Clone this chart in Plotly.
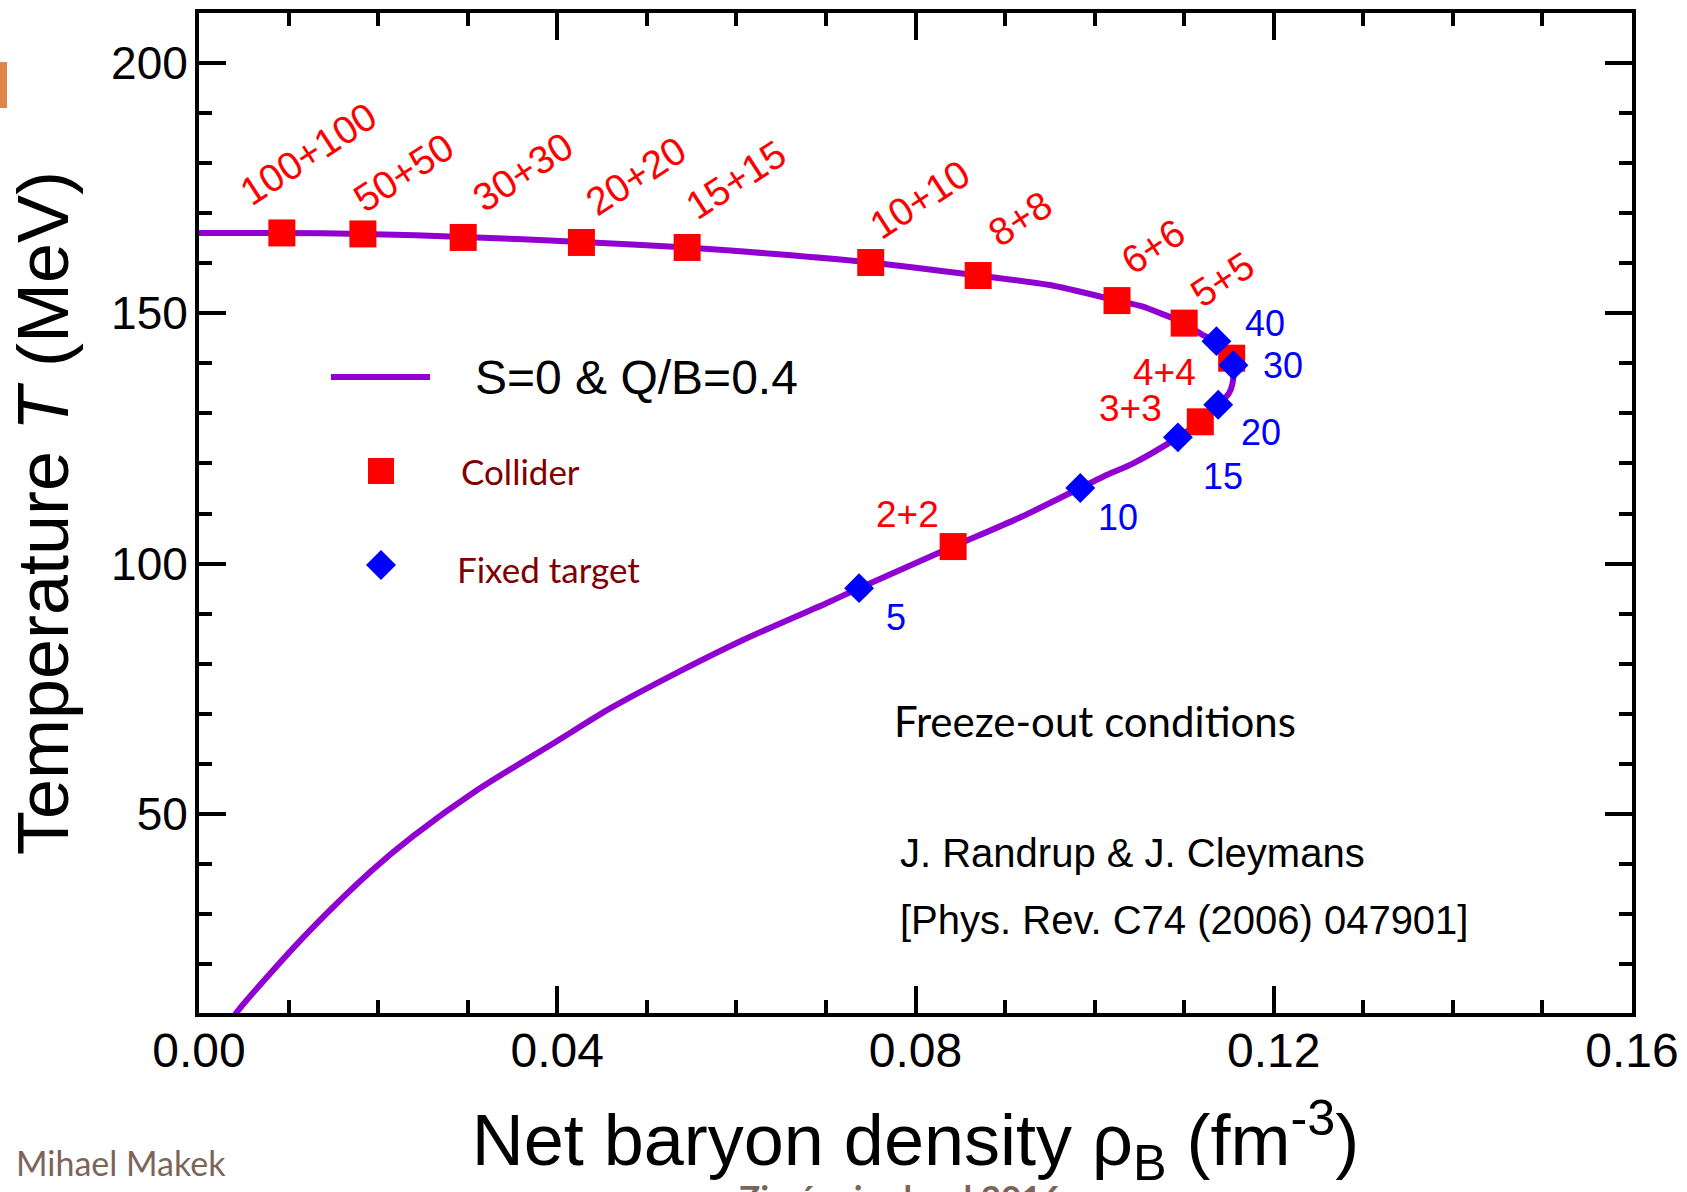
import plotly.graph_objects as go

# ---------------- data ----------------
# Freeze-out curve (net baryon density, temperature)
curve_rho = [0.0000, 0.00925, 0.0183, 0.0295, 0.0427, 0.0545, 0.0643, 0.0750, 0.0870,
             0.0950, 0.1025, 0.1054, 0.1073, 0.1100, 0.1121, 0.1136, 0.1151, 0.1155,
             0.1154, 0.1150, 0.1138, 0.1125, 0.1118, 0.1093, 0.1043, 0.1010, 0.0984,
             0.0919, 0.0842, 0.0737, 0.0703, 0.0608, 0.0528, 0.0459, 0.0399, 0.0309,
             0.0239, 0.0192, 0.0125, 0.0080, 0.0042, 0.0036]
curve_T = [166.0, 166.0, 165.8, 165.2, 164.2, 163.1, 161.8, 160.1, 157.5,
           155.6, 152.5, 151.3, 150.0, 148.0, 145.6, 144.4, 142.0, 139.6,
           136.0, 134.0, 131.7, 129.7, 128.3, 125.2, 120.0, 117.4, 115.1,
           109.4, 103.4, 95.1, 92.3, 84.8, 77.7, 71.1, 64.5, 54.6,
           45.6, 38.6, 27.0, 18.3, 10.4, 8.5]

collider_labels = ["100+100", "50+50", "30+30", "20+20", "15+15", "10+10",
                   "8+8", "6+6", "5+5", "4+4", "3+3", "2+2"]
collider_rho = [0.00925, 0.0183, 0.0295, 0.0427, 0.0545, 0.0750,
                0.0870, 0.1025, 0.1100, 0.1153, 0.1118, 0.0842]
collider_T = [166.0, 165.8, 165.1, 164.1, 163.1, 160.1,
              157.5, 152.5, 148.0, 141.0, 128.3, 103.4]

fixed_labels = ["40", "30", "20", "15", "10", "5"]
fixed_rho = [0.1136, 0.1155, 0.1138, 0.1093, 0.0984, 0.0737]
fixed_T = [144.4, 139.6, 131.7, 125.2, 115.1, 95.1]

x_ticks = [0.00, 0.04, 0.08, 0.12, 0.16]
y_ticks = [50, 100, 150, 200]

# ---------------- styles ----------------
W, H = 1687, 1192
ML, MR, MT, MB = 199, 55, 13, 179
PW, PH = W - ML - MR, H - MT - MB

PURPLE = "#9000D0"
RED = "#FF0000"
BLUE = "#0000FF"
MAROON = "#800000"
BROWN = "#7d6459"
ARIAL = "Liberation Sans, Arial, Helvetica, sans-serif"
GOTH = "Lato, sans-serif"

# label offsets in pixels (dx right, dy up), angle
collider_off = [(27, 79, -33), (41, 61, -33), (60, 66, -33), (55, 67, -33), (49, 68, -33),
                (49, 63, -33), (42, 57, -33), (36, 54, -33), (38, 44, -33),
                (-67, -14, 0), (-70, 13, 0), (-46, 32, 0)]
fixed_off = [(49, 18), (50, 0), (43, -28), (45, -39), (38, -30), (37, -29)]


def px(xpix):
    return (xpix - ML) / PW


def py(ypix):
    return (H - MB - ypix) / PH


fig = go.Figure()
fig.add_trace(go.Scatter(x=curve_rho, y=curve_T, mode="lines",
                         line=dict(color=PURPLE, width=6, shape="spline", smoothing=0.8),
                         showlegend=False, hoverinfo="skip"))
fig.add_trace(go.Scatter(x=collider_rho, y=collider_T, mode="markers",
                         marker=dict(symbol="square", size=27, color=RED, line=dict(width=0)),
                         showlegend=False, name="Collider"))
fig.add_trace(go.Scatter(x=fixed_rho, y=fixed_T, mode="markers",
                         marker=dict(symbol="diamond", size=23, color=BLUE, line=dict(width=0)),
                         showlegend=False, name="Fixed target"))

ann = []
for lab, xv, yv, (dx, dy, ang) in zip(collider_labels, collider_rho, collider_T, collider_off):
    ann.append(dict(x=xv, y=yv, xref="x", yref="y", text=lab, showarrow=False,
                    xshift=dx, yshift=dy, textangle=ang,
                    font=dict(family=ARIAL, size=39 if ang else 37, color=RED),
                    xanchor="center", yanchor="middle"))
for lab, xv, yv, (dx, dy) in zip(fixed_labels, fixed_rho, fixed_T, fixed_off):
    ann.append(dict(x=xv, y=yv, xref="x", yref="y", text=lab, showarrow=False,
                    xshift=dx, yshift=dy,
                    font=dict(family=ARIAL, size=36, color=BLUE),
                    xanchor="center", yanchor="middle"))

# legend texts
ann.append(dict(x=px(473), y=py(377), xref="paper", yref="paper", text="S=0 &amp; Q/B=0.4",
                showarrow=False, xanchor="left", yanchor="middle",
                font=dict(family=ARIAL, size=48, color="black")))
ann.append(dict(x=px(459), y=py(471), xref="paper", yref="paper", text="Collider",
                showarrow=False, xanchor="left", yanchor="middle",
                font=dict(family=GOTH, size=35, color=MAROON)))
ann.append(dict(x=px(455), y=py(569), xref="paper", yref="paper", text="Fixed target",
                showarrow=False, xanchor="left", yanchor="middle",
                font=dict(family=GOTH, size=35, color=MAROON)))
# other texts
ann.append(dict(x=px(892), y=py(721), xref="paper", yref="paper", text="Freeze-out conditions",
                showarrow=False, xanchor="left", yanchor="middle",
                font=dict(family=GOTH, size=42, color="black")))
ann.append(dict(x=px(898), y=py(853), xref="paper", yref="paper", text="J. Randrup &amp; J. Cleymans",
                showarrow=False, xanchor="left", yanchor="middle",
                font=dict(family=ARIAL, size=40, color="black")))
ann.append(dict(x=px(898), y=py(920), xref="paper", yref="paper",
                text="[Phys. Rev. C74 (2006) 047901]",
                showarrow=False, xanchor="left", yanchor="middle",
                font=dict(family=ARIAL, size=40, color="black")))
ann.append(dict(x=px(14), y=py(1162), xref="paper", yref="paper", text="Mihael Makek",
                showarrow=False, xanchor="left", yanchor="middle",
                font=dict(family=GOTH, size=34, color=BROWN)))
ann.append(dict(x=px(900), y=py(1174), xref="paper", yref="paper", text="<b>Zimányi school 2016</b>",
                showarrow=False, xanchor="center", yanchor="top",
                font=dict(family=GOTH, size=35, color=BROWN)))

shapes = [
    # legend line
    dict(type="line", xref="paper", yref="paper", x0=px(331), x1=px(430), y0=py(377), y1=py(377),
         line=dict(color=PURPLE, width=6)),
    # legend square
    dict(type="rect", xref="paper", yref="paper", x0=px(368), x1=px(394), y0=py(484), y1=py(458),
         fillcolor=RED, line=dict(width=0)),
    # legend diamond
    dict(type="path", xref="paper", yref="paper",
         path=f"M {px(366)},{py(565)} L {px(381)},{py(550)} L {px(396)},{py(565)} L {px(381)},{py(580)} Z",
         fillcolor=BLUE, line=dict(width=0)),
    # orange slide marker
    dict(type="rect", xref="paper", yref="paper", x0=px(0), x1=px(7), y0=py(108), y1=py(62),
         fillcolor="#E0844A", line=dict(width=0)),
]

axis_common = dict(showline=True, linecolor="black", linewidth=4, mirror="ticks",
                   ticks="inside", ticklen=27, tickwidth=4, tickcolor="black",
                   showgrid=False, zeroline=False)

fig.update_layout(
    width=W, height=H,
    margin=dict(l=ML, r=MR, t=MT, b=MB, autoexpand=False),
    paper_bgcolor="white", plot_bgcolor="white",
    showlegend=False,
    annotations=ann, shapes=shapes,
    xaxis=dict(range=[0, 0.16], tickvals=x_ticks, tickformat=".2f",
               tickfont=dict(family=ARIAL, size=48, color="black"),
               ticklabelstandoff=-8,
               minor=dict(ticks="inside", dtick=0.01, tick0=0, ticklen=13, tickwidth=4, tickcolor="black"),
               title=dict(text="Net baryon density ρ<sub>B</sub> (fm<sup>-3</sup>)",
                          font=dict(family=ARIAL, size=72, color="black"), standoff=40),
               **axis_common),
    yaxis=dict(range=[10.3, 209.9], tickvals=y_ticks,
               tickfont=dict(family=ARIAL, size=46, color="black"),
               ticklabelstandoff=-2,
               minor=dict(ticks="inside", dtick=10, tick0=0, ticklen=13, tickwidth=4, tickcolor="black"),
               title=dict(text="Temperature <i>T</i> (MeV)",
                          font=dict(family=ARIAL, size=72, color="black"), standoff=20),
               **axis_common),
)

fig.write_html("out.html")
